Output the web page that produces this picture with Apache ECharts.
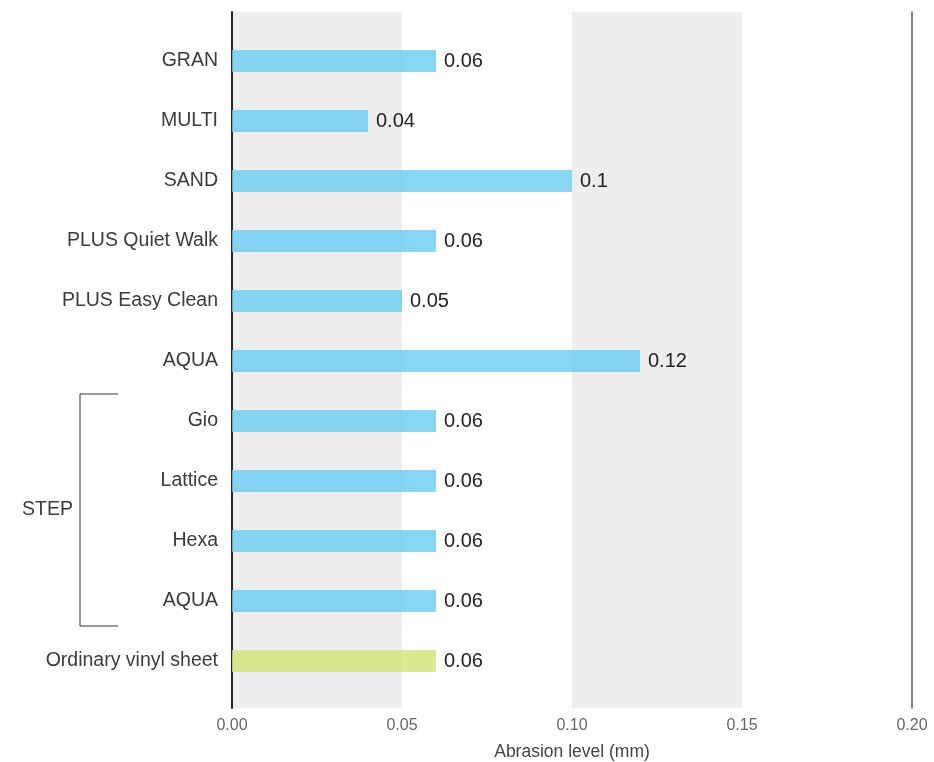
<!DOCTYPE html>
<html>
<head>
<meta charset="utf-8">
<script src="https://cdn.jsdelivr.net/npm/echarts@6/dist/echarts.min.js"></script>
<style>
  html, body { margin: 0; padding: 0; background: #fff; }
  #chart { width: 934px; height: 762px; }
</style>
</head>
<body>
<div id="chart"></div>
<script>
const categories = ['GRAN', 'MULTI', 'SAND', 'PLUS Quiet Walk', 'PLUS Easy Clean', 'AQUA',
  'Gio', 'Lattice', 'Hexa', 'AQUA', 'Ordinary vinyl sheet'];
const abrasion = [0.06, 0.04, 0.1, 0.06, 0.05, 0.12, 0.06, 0.06, 0.06, 0.06, 0.06];
const xTicks = [0, 0.05, 0.1, 0.15, 0.2];
const stepGroup = { label: 'STEP', first: 6, last: 9 };
const baselineIndex = 10;

const blue = 'rgba(105,204,241,0.8)';
const green = 'rgba(211,226,116,0.8)';
const font = '"Liberation Sans", Arial, sans-serif';

const chart = echarts.init(document.getElementById('chart'));

const option = {
  animation: false,
  textStyle: { fontFamily: font },
  grid: [
    { left: 232, right: 22, top: 12, bottom: 54, containLabel: false, outerBoundsMode: 'none' },
    { left: 232, right: 22, top: 31, bottom: 71, containLabel: false, outerBoundsMode: 'none' }
  ],
  xAxis: [
    {
      gridIndex: 0, type: 'value',
      min: xTicks[0], max: xTicks[xTicks.length - 1], interval: 0.05,
      axisLine: { show: false }, axisTick: { show: false },
      splitLine: { show: false },
      splitArea: { show: true, areaStyle: { color: ['#eeeeee', '#ffffff'] } },
      axisLabel: {
        margin: 10, fontSize: 16, color: '#666', fontFamily: font,
        formatter: v => v.toFixed(2)
      },
      name: 'Abrasion level (mm)', nameLocation: 'middle', nameGap: 35,
      nameTextStyle: { fontSize: 17.5, color: '#444', fontFamily: font }
    },
    {
      gridIndex: 1, type: 'value', min: 0, max: 0.2, show: false
    }
  ],
  yAxis: [
    {
      gridIndex: 0, type: 'value', position: 'left',
      axisLine: { show: true, lineStyle: { color: '#2a2424', width: 2 } },
      axisLabel: { show: false }, axisTick: { show: false }, splitLine: { show: false }
    },
    {
      gridIndex: 0, type: 'value', position: 'right',
      axisLine: { show: true, lineStyle: { color: '#8a8686', width: 2 } },
      axisLabel: { show: false }, axisTick: { show: false }, splitLine: { show: false }
    },
    {
      gridIndex: 1, type: 'category', inverse: true, data: categories,
      axisLine: { show: false }, axisTick: { show: false },
      axisLabel: {
        margin: 14, fontSize: 19.5, color: '#3d3a3a', fontFamily: font, interval: 0,
        padding: [4, 0, 0, 0]
      }
    }
  ],
  series: [
    {
      type: 'bar',
      xAxisIndex: 1, yAxisIndex: 2,
      barWidth: 22,
      data: abrasion.map((v, i) => ({
        value: v,
        itemStyle: { color: i === baselineIndex ? green : blue }
      })),
      label: {
        show: true, position: 'right', distance: 8,
        fontSize: 20, color: '#222', fontFamily: font,
        padding: [3, 0, 0, 0]
      }
    }
  ]
};

chart.setOption(option);

// STEP bracket next to the grouped category labels
const yTop = chart.convertToPixel({ yAxisIndex: 2 }, stepGroup.first) - 27;
const yBot = chart.convertToPixel({ yAxisIndex: 2 }, stepGroup.last) + 25;
const bx = 80, bx2 = 118;
chart.setOption({
  graphic: [
    {
      type: 'polyline',
      shape: { points: [[bx2, yTop], [bx, yTop], [bx, yBot], [bx2, yBot]] },
      style: { stroke: '#333', lineWidth: 1, fill: null }
    },
    {
      type: 'text',
      x: 73, y: (yTop + yBot) / 2,
      style: {
        text: stepGroup.label, fontSize: 19.5, fill: '#3d3a3a', fontFamily: font,
        align: 'right', verticalAlign: 'middle'
      }
    }
  ]
});
</script>
</body>
</html>
